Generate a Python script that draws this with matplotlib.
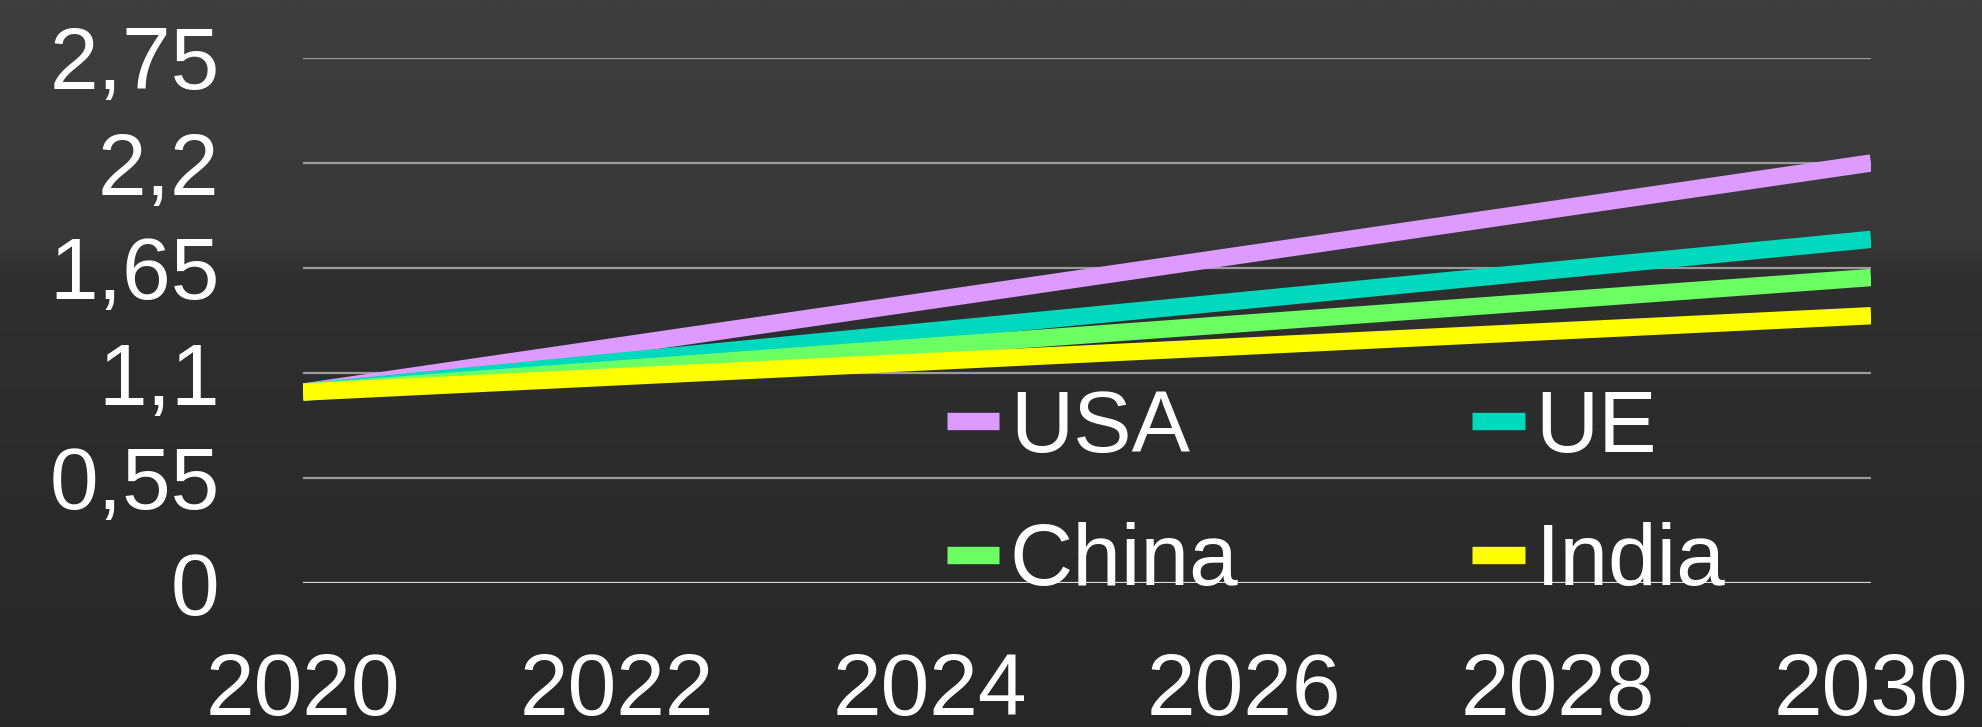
import numpy as np
import matplotlib
matplotlib.use("Agg")
from matplotlib import pyplot as plt
from matplotlib.colors import LinearSegmentedColormap

# data
years = [2020, 2021, 2022, 2023, 2024, 2025, 2026, 2027, 2028, 2029, 2030]
usa = [1.0, 1.12, 1.24, 1.36, 1.48, 1.6, 1.72, 1.84, 1.96, 2.08, 2.2]
ue = [1.0, 1.08, 1.16, 1.24, 1.32, 1.4, 1.48, 1.56, 1.64, 1.72, 1.8]
china = [1.0, 1.06, 1.12, 1.18, 1.24, 1.3, 1.36, 1.42, 1.48, 1.54, 1.6]
india = [1.0, 1.04, 1.08, 1.12, 1.16, 1.2, 1.24, 1.28, 1.32, 1.36, 1.4]

series_names = ["USA", "UE", "China", "India"]
series_colors = ["#dd9bff", "#00d9bd", "#6cff63", "#ffff00"]

y_ticks = [0, 0.55, 1.1, 1.65, 2.2, 2.75]
y_labels = ["0", "0,55", "1,1", "1,65", "2,2", "2,75"]
x_ticks = [2020, 2022, 2024, 2026, 2028, 2030]

W, H = 1983, 727
plt.rcParams["font.family"] = ["Liberation Sans", "DejaVu Sans"]

fig = plt.figure(figsize=(W / 100, H / 100), dpi=100)

# chalkboard-ish dark background
bg = fig.add_axes([0, 0, 1, 1], zorder=-10)
cmap = LinearSegmentedColormap.from_list(
    "bg",
    [(0.0, "#3e3e3e"), (0.33, "#383838"), (0.38, "#2f2f2f"), (1.0, "#272727")],
)
grad = np.linspace(0, 1, 256).reshape(-1, 1)
bg.imshow(grad, aspect="auto", cmap=cmap, extent=[0, 1, 0, 1], origin="upper")
bg.set_axis_off()

ax = fig.add_axes([303 / W, 1 - 583 / H, (1871 - 303) / W, (583 - 58) / H])
ax.set_facecolor("none")

lines = []
for vals, name, col in zip([usa, ue, china, india], series_names, series_colors):
    (ln,) = ax.plot(years, vals, color=col, lw=12.5, solid_capstyle="butt", label=name)
    lines.append(ln)

ax.set_xlim(2020, 2030)
ax.set_ylim(0, 2.75)
ax.set_yticks(y_ticks)
ax.set_yticklabels(y_labels)
ax.set_xticks(x_ticks)

ax.tick_params(axis="y", length=0, pad=60, labelsize=63, labelcolor="white")
ax.tick_params(axis="x", length=0, pad=50, labelsize=63, labelcolor="white")

ax.yaxis.grid(True, color="#9c9c9c", lw=1.6)
ax.set_axisbelow(True)
ax.get_ygridlines()[0].set_color("#dcdcdc")
for s in ax.spines.values():
    s.set_visible(False)

# legend fills column-wise, so reorder to get USA/UE on the first row
order = [0, 2, 1, 3]
leg = ax.legend(
    [lines[i] for i in order],
    [series_names[i] for i in order],
    ncol=2,
    loc="upper left",
    bbox_to_anchor=(947 / W, 1 - 389 / H),
    bbox_transform=fig.transFigure,
    frameon=False,
    fontsize=63,
    handlelength=0.6,
    handletextpad=0.12,
    columnspacing=2.67,
    labelspacing=0.6,
    borderpad=0,
    borderaxespad=0,
)
for t in leg.get_texts():
    t.set_color("white")

fig.savefig("out.png", dpi=100)
